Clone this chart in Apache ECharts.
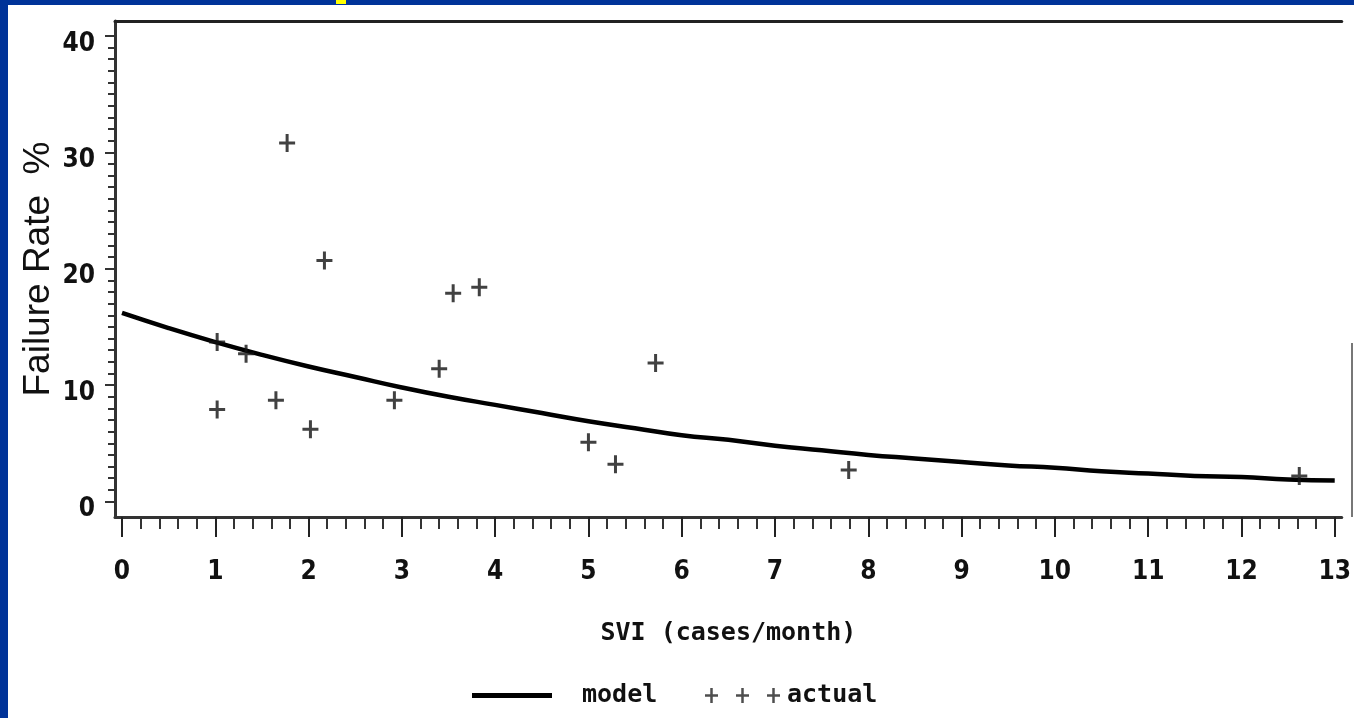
<!DOCTYPE html>
<html>
<head>
<meta charset="utf-8">
<title>Failure Rate vs SVI</title>
<script src="https://cdn.jsdelivr.net/npm/echarts@6/dist/echarts.min.js"></script>
<style>
  html, body { margin: 0; padding: 0; background: #003399; }
  #chart { width: 1354px; height: 718px; }
</style>
</head>
<body>
<div id="chart"></div>
<script>
// Fitted model curve: SVI (cases/month) -> failure rate %
const modelX = [0, 0.5, 1, 1.5, 2, 2.5, 3, 3.5, 4, 4.5, 5, 5.5, 6, 6.5, 7, 7.5, 8, 8.5, 9, 9.5, 10, 10.5, 11, 11.5, 12, 12.5, 13];
const modelY = [16.2, 14.9, 13.7, 12.6, 11.6, 10.7, 9.8, 9.0, 8.3, 7.6, 6.9, 6.3, 5.7, 5.3, 4.8, 4.4, 4.0, 3.7, 3.4, 3.1, 2.9, 2.6, 2.4, 2.2, 2.1, 1.9, 1.8];

// Observed failure rates
const actualX = [1.02, 1.33, 1.77, 2.17, 1.02, 1.65, 2.02, 2.92, 3.40, 3.55, 3.83, 5.00, 5.29, 5.72, 7.79, 12.62];
const actualY = [13.7, 12.7, 30.8, 20.7, 7.9, 8.7, 6.2, 8.7, 11.4, 17.9, 18.4, 5.1, 3.2, 11.9, 2.7, 2.2];

// Axis ticks and labels
const xMajorTicks = [0, 1, 2, 3, 4, 5, 6, 7, 8, 9, 10, 11, 12, 13];
const xMinorStep = 0.2;
const yMajorTicks = [0, 10, 20, 30, 40];
const yMinorStep = 1;
const xRange = [-0.075, 13.075];
const yRange = [-1.33, 41.28];

const xMinorTicks = [];
for (let i = 0; i <= Math.round(13 / xMinorStep); i++) {
  const v = +(i * xMinorStep).toFixed(2);
  if (Math.abs(v - Math.round(v)) > 1e-6) xMinorTicks.push(v);
}
const yMinorTicks = [];
for (let v = yMinorStep; v < 40; v += yMinorStep) {
  if (v % 10 !== 0) yMinorTicks.push(v);
}

const tickFont = '"Liberation Sans Narrow", "DejaVu Sans Condensed", "Liberation Sans", sans-serif';
const monoFont = '"DejaVu Sans Mono", "Liberation Mono", monospace';

const plusPath = 'path://M6.5,0h3v7.5h6.5v3h-6.5v7.5h-3v-7.5h-6.5v-3h6.5z';
const triplePlusPath = 'path://' +
  [0, 31, 62].map(o => `M${o + 5.25},0h2.5v6.25h5.25v2.5h-5.25v6.25h-2.5v-6.25h-5.25v-2.5h5.25z`).join('');

const chart = echarts.init(document.getElementById('chart'), null, { renderer: 'canvas' });

chart.setOption({
  backgroundColor: '#003399',
  animation: false,
  graphic: [
    { type: 'rect', z: -10, shape: { x: 8, y: 5, width: 1346, height: 713 }, style: { fill: '#ffffff' } },
    { type: 'rect', z: -9, shape: { x: 336, y: 0, width: 10, height: 4 }, style: { fill: '#ffff00' } },
    { type: 'line', z: 5, shape: { x1: 1352, y1: 343, x2: 1352, y2: 517 }, style: { stroke: '#777777', lineWidth: 2 } }
  ],
  grid: { left: 115, right: 2, top: 21, bottom: 201, containLabel: false },
  legend: [
    {
      left: 472, top: 683, padding: 0, selectedMode: false,
      itemWidth: 80, itemHeight: 5,
      data: [{ name: 'model', icon: 'rect' }],
      textStyle: { fontFamily: monoFont, fontWeight: 'bold', fontSize: 25, color: '#111', padding: [0, 0, 0, 25] }
    },
    {
      left: 705, top: 683, padding: 0, selectedMode: false,
      itemWidth: 75, itemHeight: 15,
      data: [{ name: 'actual', icon: triplePlusPath, itemStyle: { color: '#222' } }],
      textStyle: { fontFamily: monoFont, fontWeight: 'bold', fontSize: 25, color: '#111', padding: [0, 0, 0, 2] }
    }
  ],
  xAxis: [
    {
      type: 'value', position: 'bottom', min: xRange[0], max: xRange[1],
      axisLine: { show: true, onZero: false, lineStyle: { color: '#333', width: 3 } },
      axisTick: { show: true, customValues: xMajorTicks, length: 20, lineStyle: { color: '#222', width: 2 } },
      axisLabel: {
        show: true, customValues: xMajorTicks, margin: 42,
        fontFamily: tickFont, fontWeight: 'bold', fontSize: 26, color: '#111'
      },
      splitLine: { show: false },
      name: 'SVI (cases/month)', nameLocation: 'middle', nameGap: 104,
      nameTextStyle: { fontFamily: monoFont, fontWeight: 'bold', fontSize: 25, color: '#111' }
    },
    {
      type: 'value', position: 'bottom', min: xRange[0], max: xRange[1],
      axisLine: { show: false, onZero: false },
      axisTick: { show: true, customValues: xMinorTicks, length: 12, lineStyle: { color: '#333', width: 2 } },
      axisLabel: { show: false },
      splitLine: { show: false }
    },
    {
      type: 'value', position: 'top', min: xRange[0], max: xRange[1],
      axisLine: { show: true, onZero: false, lineStyle: { color: '#222', width: 3 } },
      axisTick: { show: false }, axisLabel: { show: false }, splitLine: { show: false }
    }
  ],
  yAxis: [
    {
      type: 'value', position: 'left', min: yRange[0], max: yRange[1],
      axisLine: { show: true, onZero: false, lineStyle: { color: '#333', width: 3 } },
      axisTick: { show: true, customValues: yMajorTicks, length: 10, lineStyle: { color: '#333', width: 2 } },
      axisLabel: {
        show: true, customValues: yMajorTicks, margin: 20,
        verticalAlign: 'top', lineHeight: 16,
        fontFamily: tickFont, fontWeight: 'bold', fontSize: 26, color: '#111'
      },
      splitLine: { show: false },
      name: 'Failure Rate  %', nameLocation: 'middle', nameGap: 58, nameRotate: 90,
      nameMoveOverlap: false,
      nameTextStyle: { fontFamily: '"Liberation Sans", Arial, sans-serif', fontSize: 37, color: '#111' }
    },
    {
      type: 'value', position: 'left', min: yRange[0], max: yRange[1],
      axisLine: { show: false, onZero: false },
      axisTick: { show: true, customValues: yMinorTicks, length: 7, lineStyle: { color: '#333', width: 2 } },
      axisLabel: { show: false },
      splitLine: { show: false }
    }
  ],
  series: [
    {
      name: 'model', type: 'line', xAxisIndex: 0, yAxisIndex: 0,
      data: modelX.map((x, i) => [x, modelY[i]]),
      smooth: true, showSymbol: false, symbol: 'none',
      color: '#000',
      lineStyle: { color: '#000', width: 4.5 },
      z: 3
    },
    {
      name: 'actual', type: 'scatter', xAxisIndex: 0, yAxisIndex: 0,
      data: actualX.map((x, i) => [x, actualY[i]]),
      symbol: plusPath, symbolSize: [16, 18], symbolKeepAspect: false,
      itemStyle: { color: '#111' },
      z: 4
    }
  ]
});
</script>
</body>
</html>
